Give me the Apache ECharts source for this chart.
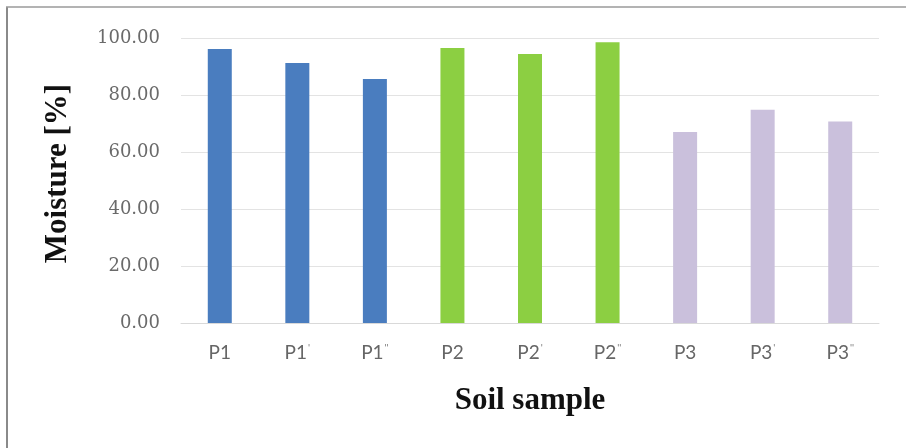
<!DOCTYPE html>
<html><head><meta charset="utf-8">
<script src="https://cdn.jsdelivr.net/npm/echarts@6/dist/echarts.min.js"></script>
<style>html,body{margin:0;padding:0;background:#fff}#c{width:906px;height:448px}</style>
</head><body><div id="c"></div>
<script>
const categories = ['P1', "P1'", "P1''", 'P2', "P2'", "P2''", 'P3', "P3'", "P3''"];
const moisture = [96.1, 91.2, 85.6, 96.5, 94.4, 98.5, 67.0, 74.8, 70.7];
const groupColors = ['#4a7dbf', '#4a7dbf', '#4a7dbf', '#8ccf42', '#8ccf42', '#8ccf42', '#cac0dc', '#cac0dc', '#cac0dc'];

const chart = echarts.init(document.getElementById('c'));
chart.setOption({
  animation: false,
  backgroundColor: '#fff',
  graphic: [
    { type: 'line', shape: { x1: 7, y1: 7, x2: 7, y2: 448 }, style: { stroke: '#8a8a8a', lineWidth: 2 } },
    { type: 'line', shape: { x1: 6, y1: 7, x2: 906, y2: 7 }, style: { stroke: '#9a9a9a', lineWidth: 1.5 } }
  ],
  grid: { left: 181, right: 27, top: 38, bottom: 125 },
  xAxis: {
    type: 'category',
    data: categories,
    name: 'Soil sample',
    nameLocation: 'middle',
    nameGap: 62,
    nameTextStyle: { fontFamily: 'Liberation Serif', fontWeight: 'bold', fontSize: 31, color: '#111' },
    axisLine: { lineStyle: { color: '#d9d9d9' } },
    axisTick: { show: false },
    axisLabel: {
      margin: 20,
      formatter: function (v) {
        const m = v.match(/^([^']+)('*)$/);
        return m[2] ? m[1] + '{s|' + m[2] + '}' : v;
      },
      fontFamily: 'Lato', fontSize: 19, color: '#666',
      rich: {
        s: { fontSize: 10, verticalAlign: 'top', padding: [0, 0, 10, 1], color: '#777', fontFamily: 'Lato' }
      }
    }
  },
  yAxis: {
    type: 'value',
    min: 0, max: 100, interval: 20,
    name: 'Moisture [%]',
    nameLocation: 'middle',
    nameGap: 108,
    nameTextStyle: { fontFamily: 'Liberation Serif', fontWeight: 'bold', fontSize: 31, color: '#111', padding: [0, 0, 0, 14] },
    axisLine: { show: false },
    axisTick: { show: false },
    axisLabel: {
      margin: 21,
      formatter: v => v.toFixed(2),
      fontFamily: 'DejaVu Serif', fontSize: 18, color: '#6a6a6a'
    },
    splitLine: { lineStyle: { color: '#e3e3e3' } }
  },
  series: [{
    type: 'bar',
    data: moisture.map((v, i) => ({ value: v, itemStyle: { color: groupColors[i] } })),
    barWidth: 24
  }]
});
</script></body></html>
